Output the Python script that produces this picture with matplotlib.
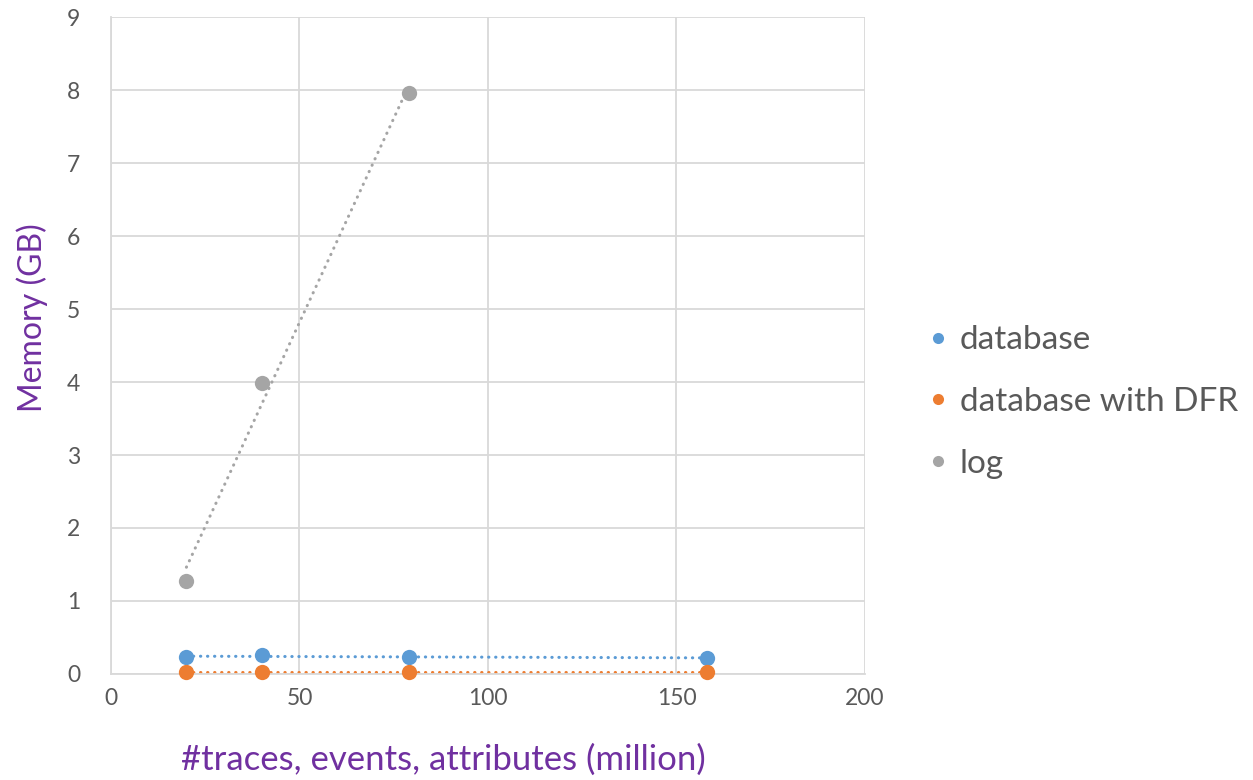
import numpy as np
import matplotlib
matplotlib.use("Agg")
import matplotlib.pyplot as plt
from matplotlib.lines import Line2D

plt.rcParams['font.family'] = ['Lato', 'DejaVu Sans']

x_values = [20, 40, 79, 158]
database = [0.23, 0.26, 0.23, 0.22]
database_dfr = [0.03, 0.03, 0.03, 0.03]
log_x = [20, 40, 79]
log_values = [1.27, 3.99, 7.96]

series = [
    ("database", x_values, database, "#5B9BD5"),
    ("database with DFR", x_values, database_dfr, "#ED7D31"),
    ("log", log_x, log_values, "#A5A5A5"),
]

W, H = 1253, 780
fig = plt.figure(figsize=(W / 100, H / 100), dpi=100)
ax = fig.add_axes([0.0886, 0.1359, 0.6017, 0.8423])

for name, xs, ys, c in series:
    xs = np.array(xs, dtype=float)
    ys = np.array(ys, dtype=float)
    k, b = np.polyfit(xs, ys, 1)
    xl = np.array([xs.min(), xs.max()])
    ax.plot(xl, k * xl + b, color=c, lw=2.2, linestyle=(0, (0.1, 2.2)),
            dash_capstyle='round', zorder=2)
    ax.plot(xs, ys, 'o', color=c, ms=11, mec='none', zorder=3, clip_on=False)

ax.set_xlim(0, 200)
ax.set_ylim(0, 9)
ax.set_xticks([0, 50, 100, 150, 200])
ax.set_yticks(range(10))
ax.grid(True, color='#D9D9D9', lw=1.3)
ax.set_axisbelow(True)
for s in ['top', 'right']:
    ax.spines[s].set_visible(False)
for s in ['left', 'bottom']:
    ax.spines[s].set_color('#D9D9D9')
    ax.spines[s].set_linewidth(1.3)
ax.tick_params(length=0, labelsize=16.5, colors='#595959', pad=10)
ax.tick_params(axis='y', pad=22)

fig.text(443 / W, 1 - 760 / H, '#traces, events, attributes (million)', fontsize=25,
         color='#7030A0', ha='center', va='center')
fig.text(32 / W, 1 - 318 / H, 'Memory (GB)', fontsize=23, color='#7030A0',
         ha='center', va='center', rotation=90)

handles = [Line2D([], [], marker='o', ls='none', color=c, ms=8, mec='none') for _, _, _, c in series]
labels = [n for n, _, _, _ in series]
fig.legend(handles, labels, loc='center left', bbox_to_anchor=(0.714, 1 - 402 / H),
           frameon=False, fontsize=24, labelcolor='#595959', handletextpad=0.25,
           labelspacing=0.95, handlelength=0.8)

fig.savefig('out.png', dpi=100)
